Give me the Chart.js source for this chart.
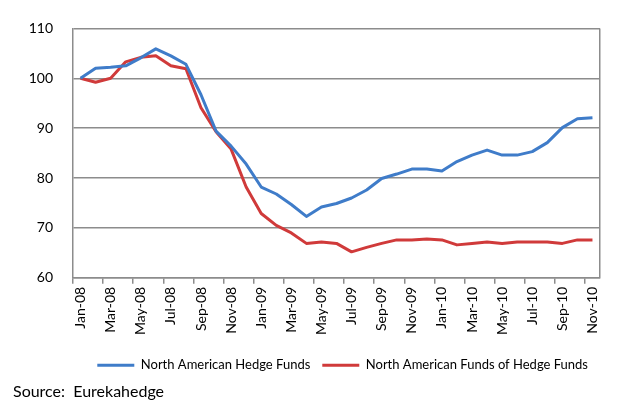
<!DOCTYPE html>
<html>
<head>
<meta charset="utf-8">
<script src="https://cdn.jsdelivr.net/npm/chart.js@4.4.1/dist/chart.umd.min.js"></script>
<style>
  html, body { margin: 0; padding: 0; background: #fff; }
  #wrap { width: 630px; height: 412px; }
</style>
</head>
<body>
<div id="wrap"><canvas id="c" width="630" height="412"></canvas></div>
<script>
const categories = [
  'Jan-08','Feb-08','Mar-08','Apr-08','May-08','Jun-08','Jul-08','Aug-08','Sep-08','Oct-08','Nov-08','Dec-08',
  'Jan-09','Feb-09','Mar-09','Apr-09','May-09','Jun-09','Jul-09','Aug-09','Sep-09','Oct-09','Nov-09','Dec-09',
  'Jan-10','Feb-10','Mar-10','Apr-10','May-10','Jun-10','Jul-10','Aug-10','Sep-10','Oct-10','Nov-10'
];
const hedgeFunds = [
  100, 102.0, 102.2, 102.5, 104.1, 105.9, 104.5, 102.8, 96.7, 89.4, 86.4, 82.8,
  78.2, 76.8, 74.7, 72.3, 74.2, 74.9, 76.0, 77.6, 79.9, 80.8, 81.8, 81.8,
  81.4, 83.3, 84.6, 85.6, 84.6, 84.6, 85.3, 87.1, 90.1, 91.9, 92.1
];
const fundsOfHedgeFunds = [
  100, 99.2, 100.0, 103.3, 104.2, 104.5, 102.5, 101.9, 94.1, 89.3, 85.8, 78.2,
  72.9, 70.5, 69.0, 66.9, 67.2, 66.9, 65.2, 66.1, 66.9, 67.6, 67.6, 67.8,
  67.6, 66.6, 66.9, 67.2, 66.9, 67.2, 67.2, 67.2, 66.9, 67.6, 67.6
];
const seriesNames = ['North American Hedge Funds', 'North American Funds of Hedge Funds'];
const yMin = 60, yMax = 110, yStep = 10;
const sourceText = 'Source:  Eurekahedge';

const GRAY = '#8c8c8c';
const BLUE = '#3f7cc9';
const RED = '#d03a3a';

new Chart(document.getElementById('c'), {
  type: 'line',
  data: {
    labels: categories,
    datasets: [
      { label: seriesNames[0], data: hedgeFunds, borderColor: BLUE, backgroundColor: BLUE,
        borderWidth: 3, pointRadius: 0, tension: 0, fill: false, borderJoinStyle: 'round' },
      { label: seriesNames[1], data: fundsOfHedgeFunds, borderColor: RED, backgroundColor: RED,
        borderWidth: 3, pointRadius: 0, tension: 0, fill: false, borderJoinStyle: 'round' }
    ]
  },
  options: {
    responsive: false,
    animation: false,
    layout: { padding: { left: 13, right: 30, top: 27, bottom: 8 } },
    plugins: {
      tooltip: { enabled: false },
      legend: {
        position: 'bottom',
        align: 'end',
        labels: {
          font: { family: 'Lato', size: 13 },
          color: '#000',
          boxWidth: 37,
          boxHeight: 3,
          padding: 12,
          generateLabels: (chart) => Chart.defaults.plugins.legend.labels.generateLabels(chart).map(l => Object.assign(l, { lineWidth: 0 }))
        }
      },
      title: {
        display: true,
        text: sourceText,
        position: 'bottom',
        align: 'start',
        color: '#000',
        font: { family: 'Lato', size: 16, weight: 'normal' },
        padding: { top: 0, bottom: 3 }
      }
    },
    scales: {
      x: {
        offset: true,
        grid: {
          offset: true,
          drawOnChartArea: true,
          color: (ctx) => (ctx.index === undefined ? GRAY : 'transparent'),
          tickColor: (ctx) => (ctx.index !== undefined && ctx.index % 2 === 0 ? GRAY : 'transparent'),
          tickLength: 6,
          lineWidth: 1.5
        },
        border: { color: GRAY, width: 1.5 },
        ticks: {
          autoSkip: false,
          maxRotation: 90,
          minRotation: 90,
          padding: 3,
          color: '#000',
          font: { family: 'Lato', size: 14 },
          callback: function (v, i) { return i % 2 === 0 ? this.getLabelForValue(v) : ''; }
        },
        afterFit: (s) => { s.height = 69; }
      },
      y: {
        min: yMin,
        max: yMax,
        ticks: { stepSize: yStep, padding: 20, color: '#000', font: { family: 'Lato', size: 14 } },
        grid: { color: GRAY, lineWidth: 1.5, drawTicks: false },
        border: { color: GRAY, width: 1.5 },
        afterFit: (s) => { s.width = 60; }
      }
    }
  }
});
</script>
</body>
</html>
